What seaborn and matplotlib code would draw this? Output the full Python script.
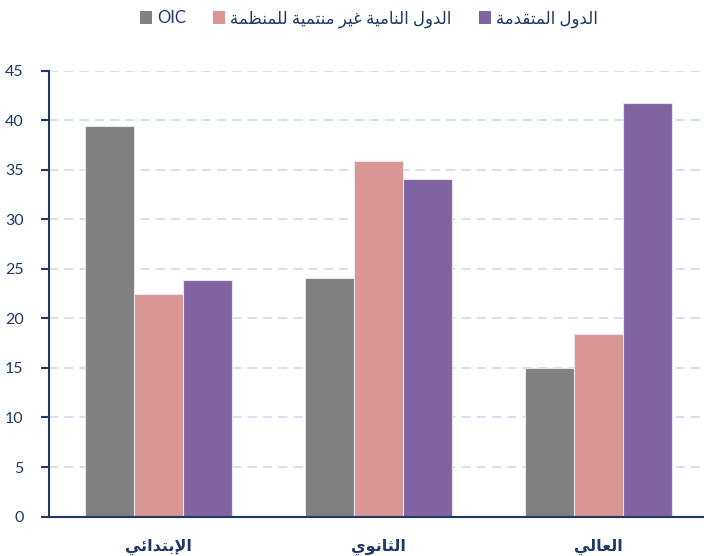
import matplotlib
matplotlib.use("Agg")
import matplotlib.pyplot as plt
import seaborn as sns
import pandas as pd
from matplotlib.patches import Patch

# ---- data -------------------------------------------------------------
levels = ["الإبتدائي", "الثانوي", "العالي"]
groups = ["OIC", "الدول النامية غير منتمية للمنظمة", "الدول المتقدمة"]
oic = [39.4, 24.1, 15.0]
developing_non_oic = [22.5, 35.9, 18.4]
developed = [23.9, 34.1, 41.8]
y_ticks = [0, 5, 10, 15, 20, 25, 30, 35, 40, 45]
colors = ["#808080", "#D99694", "#8064A2"]

# ---- minimal Arabic shaping (matplotlib lays text out left-to-right) ---
# letter: (isolated, final, initial, medial); initial/medial None = right-joining
FORMS = {
    "ا": (0xFE8D, 0xFE8E, None, None),
    "إ": (0xFE87, 0xFE88, None, None),
    "أ": (0xFE83, 0xFE84, None, None),
    "ب": (0xFE8F, 0xFE90, 0xFE91, 0xFE92),
    "ة": (0xFE93, 0xFE94, None, None),
    "ت": (0xFE95, 0xFE96, 0xFE97, 0xFE98),
    "ث": (0xFE99, 0xFE9A, 0xFE9B, 0xFE9C),
    "د": (0xFEA9, 0xFEAA, None, None),
    "ر": (0xFEAD, 0xFEAE, None, None),
    "ظ": (0xFEC5, 0xFEC6, 0xFEC7, 0xFEC8),
    "ع": (0xFEC9, 0xFECA, 0xFECB, 0xFECC),
    "غ": (0xFECD, 0xFECE, 0xFECF, 0xFED0),
    "ق": (0xFED5, 0xFED6, 0xFED7, 0xFED8),
    "ل": (0xFEDD, 0xFEDE, 0xFEDF, 0xFEE0),
    "م": (0xFEE1, 0xFEE2, 0xFEE3, 0xFEE4),
    "ن": (0xFEE5, 0xFEE6, 0xFEE7, 0xFEE8),
    "و": (0xFEED, 0xFEEE, None, None),
    "ي": (0xFEF1, 0xFEF2, 0xFEF3, 0xFEF4),
    "ئ": (0xFE89, 0xFE8A, 0xFE8B, 0xFE8C),
}
LAM_ALEF = {"ا": (0xFEFB, 0xFEFC), "إ": (0xFEF9, 0xFEFA), "أ": (0xFEF7, 0xFEF8)}


def shape_word(word):
    # merge lam + alef into ligature tokens first
    tokens = []
    i = 0
    while i < len(word):
        c = word[i]
        if c == "ل" and i + 1 < len(word) and word[i + 1] in LAM_ALEF:
            tokens.append(("LA", word[i + 1]))
            i += 2
        else:
            tokens.append(("C", c))
            i += 1

    def dual(tok):
        kind, c = tok
        return kind == "C" and c in FORMS and FORMS[c][2] is not None

    def joins(tok):
        kind, c = tok
        return kind == "LA" or c in FORMS

    out = []
    for k, tok in enumerate(tokens):
        prev_j = k > 0 and dual(tokens[k - 1]) and joins(tok)
        next_j = k + 1 < len(tokens) and dual(tok) and joins(tokens[k + 1])
        kind, c = tok
        if kind == "LA":
            iso, fin = LAM_ALEF[c]
            out.append(chr(fin if prev_j else iso))
            continue
        if c not in FORMS:
            out.append(c)
            continue
        iso, fin, ini, med = FORMS[c]
        if prev_j and next_j:
            out.append(chr(med))
        elif prev_j:
            out.append(chr(fin))
        elif next_j:
            out.append(chr(ini))
        else:
            out.append(chr(iso))
    return "".join(out)


def ar(text):
    if not any(ch in FORMS for ch in text):
        return text
    shaped = " ".join(shape_word(w) for w in text.split(" "))
    return shaped[::-1]


# ---- long-form table --------------------------------------------------
df = pd.DataFrame({
    "level": levels * 3,
    "group": [g for g in groups for _ in levels],
    "value": oic + developing_non_oic + developed,
})

navy = "#1F3864"
sns.set_theme(style="white")
plt.rcParams["font.family"] = ["Lato", "DejaVu Sans"]

fig = plt.figure(figsize=(7.04, 5.56), dpi=100)
ax = fig.add_axes([48.5 / 704, 0.071, 660 / 704, 0.8015])

sns.barplot(data=df, x="level", y="value", hue="group", order=levels,
            hue_order=groups, palette=colors, width=0.667, gap=0,
            edgecolor="#E6E6E6", linewidth=0.8, saturation=1,
            legend=False, ax=ax, zorder=3)

ax.set_xlim(-0.5, 2.5)
ax.set_ylim(0, 45)
ax.set_yticks(y_ticks)
ax.set_yticklabels([str(v) for v in y_ticks], fontsize=11.5, color=navy)
ax.yaxis.grid(True, color="#C6D9F1", linestyle=(0, (6, 4)), linewidth=1.1, zorder=0)
ax.set_axisbelow(True)

ax.set_xticks([0, 1, 2])
ax.set_xticklabels([ar(s) for s in levels], fontsize=11.5, color=navy,
                   fontweight="bold", family=["DejaVu Sans"])
ax.set_xticks([-0.5, 0.5, 1.5, 2.5], minor=True)
ax.tick_params(axis="x", which="major", length=0, pad=16)
ax.tick_params(axis="x", which="minor", length=5, width=1.5, color=navy, direction="out")
ax.tick_params(axis="y", length=6, width=1.5, color=navy, direction="out", pad=12, left=True)

ax.set_xlabel("")
ax.set_ylabel("")
for side in ["top", "right"]:
    ax.spines[side].set_visible(False)
for side in ["left", "bottom"]:
    ax.spines[side].set_color(navy)
    ax.spines[side].set_linewidth(1.5)
    ax.spines[side].set_zorder(4)

handles = [Patch(facecolor=c, edgecolor="none") for c in colors]
leg = fig.legend(handles, [ar(g) for g in groups], loc="center",
                 bbox_to_anchor=(0.524, 0.966), ncol=3, frameon=False,
                 fontsize=12, handlelength=0.75, handleheight=0.75,
                 handletextpad=0.3, columnspacing=1.6, labelcolor=navy)

fig.savefig("out.png", dpi=100)
